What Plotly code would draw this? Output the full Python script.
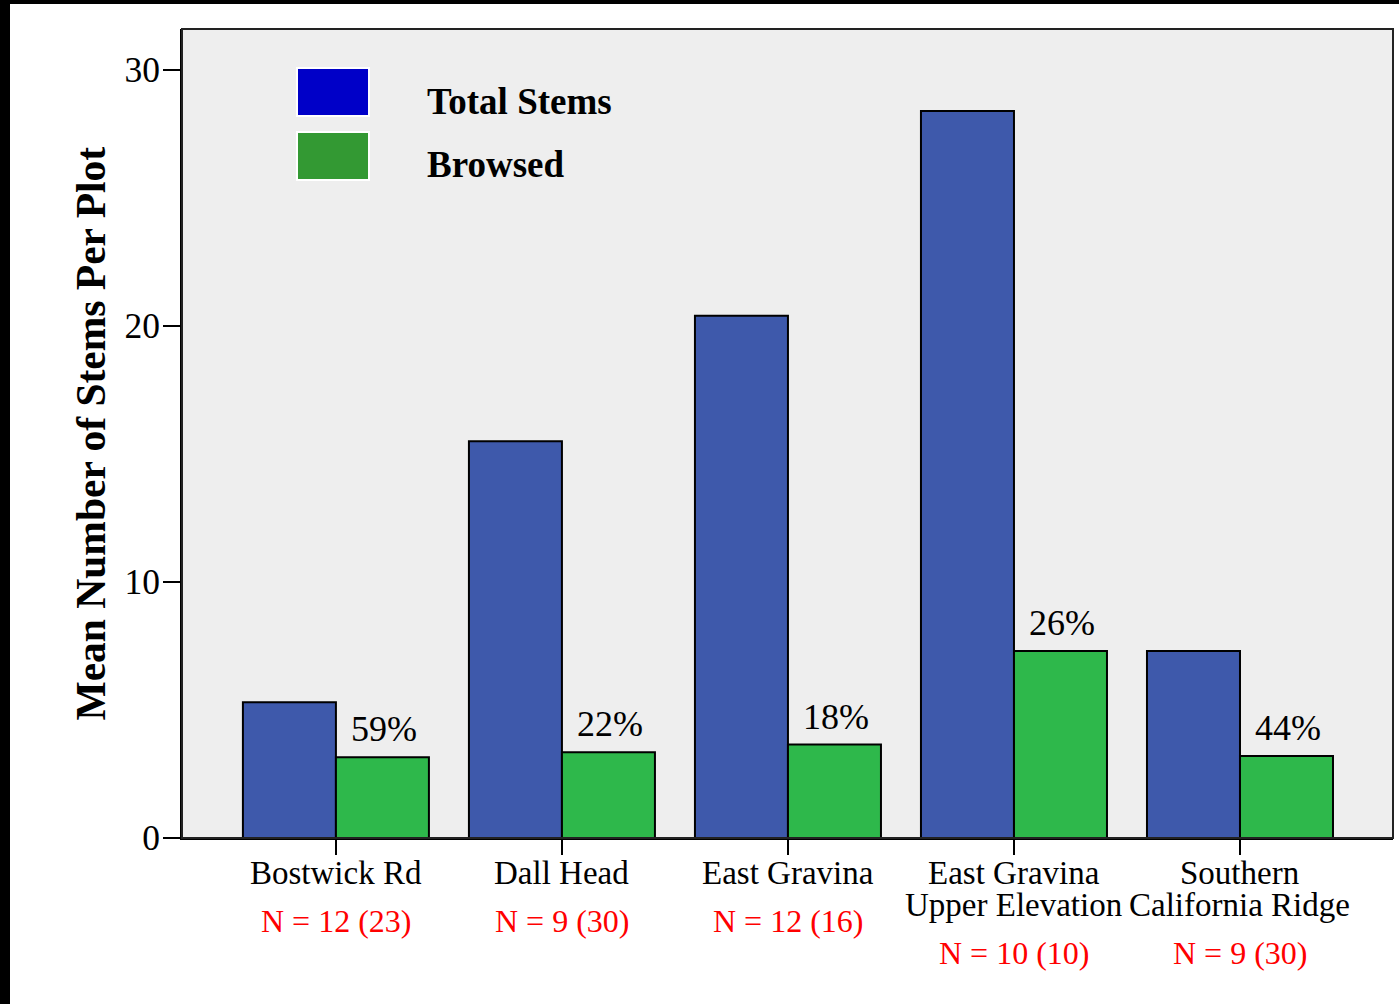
import plotly.graph_objects as go

categories = ["Bostwick Rd", "Dall Head", "East Gravina", "East Gravina Upper Elevation", "Southern California Ridge"]
label_lines = [["Bostwick Rd"], ["Dall Head"], ["East Gravina"], ["East Gravina", "Upper Elevation"], ["Southern", "California Ridge"]]
n_labels = ["N = 12 (23)", "N = 9 (30)", "N = 12 (16)", "N = 10 (10)", "N = 9 (30)"]
total_stems = [5.3, 15.5, 20.4, 28.4, 7.3]
browsed = [3.15, 3.35, 3.65, 7.3, 3.2]
pct_labels = ["59%", "22%", "18%", "26%", "44%"]

W, H = 1399, 1004
L, R, T, B = 182, 6, 29, 166
PW, PH = W - L - R, H - T - B

def px(x):
    return (x - L) / PW

def py(y):
    return (H - B - y) / PH

FONT = "Liberation Serif"
BLUE = "#3e59ab"
GREEN = "#2eb84b"

fig = go.Figure()
fig.add_trace(go.Bar(x=categories, y=total_stems, name="Total Stems",
                     marker=dict(color=BLUE, line=dict(color="black", width=2))))
fig.add_trace(go.Bar(x=categories, y=browsed, name="Browsed",
                     marker=dict(color=GREEN, line=dict(color="black", width=2))))

ann = []
for c, b, p in zip(categories, browsed, pct_labels):
    ann.append(dict(x=c, y=b, xref="x", yref="y", text=p, showarrow=False,
                    xshift=48, yshift=28, yanchor="middle",
                    font=dict(family=FONT, size=36, color="black")))
for c, lines, n in zip(categories, label_lines, n_labels):
    for i, line in enumerate(lines):
        ann.append(dict(x=c, y=0, xref="x", yref="paper", text=line, showarrow=False,
                        yanchor="middle", yshift=-35 - 32 * i,
                        font=dict(family=FONT, size=33, color="black")))
    ann.append(dict(x=c, y=0, xref="x", yref="paper", text=n, showarrow=False,
                    yanchor="middle", yshift=-83 - 32 * (len(lines) - 1),
                    font=dict(family=FONT, size=32, color="red")))

ann.append(dict(x=px(90), y=0.5, xref="paper", yref="paper", textangle=-90,
                text="<b>Mean Number of Stems Per Plot</b>", showarrow=False,
                xanchor="center", yanchor="middle",
                font=dict(family=FONT, size=41.5, color="black")))
ann.append(dict(x=px(425), y=py(102), xref="paper", yref="paper", text="<b>Total Stems</b>",
                showarrow=False, xanchor="left", yanchor="middle",
                font=dict(family=FONT, size=37, color="black")))
ann.append(dict(x=px(425), y=py(165), xref="paper", yref="paper", text="<b>Browsed</b>",
                showarrow=False, xanchor="left", yanchor="middle",
                font=dict(family=FONT, size=37, color="black")))

shapes = [
    dict(type="rect", xref="paper", yref="paper", x0=px(297), x1=px(369), y0=py(116), y1=py(68),
         fillcolor="#0000c8", line=dict(color="white", width=2)),
    dict(type="rect", xref="paper", yref="paper", x0=px(297), x1=px(369), y0=py(180), y1=py(132),
         fillcolor="#339933", line=dict(color="white", width=2)),
    # outer black frame remnants
    dict(type="rect", xref="paper", yref="paper", x0=px(0), x1=px(10), y0=py(H), y1=py(0),
         fillcolor="black", line=dict(width=0), layer="above"),
    dict(type="rect", xref="paper", yref="paper", x0=px(0), x1=px(W), y0=py(4), y1=py(0),
         fillcolor="black", line=dict(width=0), layer="above"),
    # plot frame
    dict(type="rect", xref="paper", yref="paper", x0=0, x1=1, y0=0, y1=1,
         line=dict(color="#222222", width=2), layer="above"),
]

fig.update_layout(
    width=W, height=H,
    margin=dict(l=L, r=R, t=T, b=B, autoexpand=False),
    paper_bgcolor="white", plot_bgcolor="#eeeeee",
    barmode="group", bargap=0.177, bargroupgap=0,
    showlegend=False,
    annotations=ann, shapes=shapes,
    font=dict(family=FONT, color="black"),
)
fig.update_xaxes(range=[-0.681, 4.677], showgrid=False, showline=True, linecolor="black", linewidth=2,
                 ticks="outside", ticklen=15, tickwidth=2, tickcolor="black", showticklabels=False,
                 zeroline=False)
fig.update_yaxes(range=[0, 31.6], tickvals=[0, 10, 20, 30], showgrid=False, showline=True,
                 linecolor="black", linewidth=2, ticks="outside", ticklen=17, tickwidth=2,
                 tickcolor="black", tickfont=dict(family=FONT, size=35.5, color="black"),
                 ticklabelstandoff=-4, zeroline=False)

fig.write_html("out.html", config={"displayModeBar": False},
               post_script="document.body.style.margin='0';document.body.style.overflow='hidden';")
